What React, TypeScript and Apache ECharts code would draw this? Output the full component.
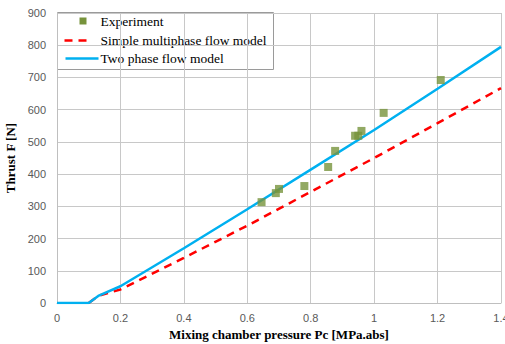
import React, { useEffect, useRef } from "react";
import * as echarts from "echarts";

const expX = [0.645, 0.69, 0.70, 0.78, 0.855, 0.877, 0.94, 0.95, 0.96, 1.03, 1.21];
const expY = [313, 341, 354, 363, 422, 472, 519, 519, 534, 590, 692];

const twoPhaseX = [0, 0.1, 0.13, 0.2, 0.4, 0.6, 0.8, 1.0, 1.2, 1.4];
const twoPhaseY = [0, 0, 22, 52, 170, 291, 414, 537, 665, 795];

const simpleX = [0.1, 0.13, 0.2, 0.4, 0.6, 0.8, 1.0, 1.2, 1.4];
const simpleY = [0, 22, 42, 140, 240, 345, 450, 558, 667];

const names = ["Experiment", "Simple multiphase flow model", "Two phase flow model"];
const xTitle = "Mixing chamber pressure Pc [MPa.abs]";
const yTitle = "Thrust F [N]";

const GREEN = "#77933c";
const RED = "#ff0000";
const BLUE = "#00b0f0";

export default function App() {
  const ref = useRef<HTMLDivElement>(null);
  useEffect(() => {
    if (!ref.current) return;
    const chart = echarts.init(ref.current, undefined, { renderer: "svg" });
    const serif = "'Liberation Serif', 'Times New Roman', serif";
    const tick = { color: "#595959", fontSize: 11, fontFamily: "'Liberation Sans', Arial, sans-serif" };
    const grid = { left: 57, right: 4, top: 13, bottom: 41, outerBoundsMode: "none", containLabel: false };
    const lx = 57, ly = 12;
    chart.setOption({
      animation: false,
      backgroundColor: "#ffffff",
      grid,
      xAxis: {
        type: "value",
        min: 0,
        max: 1.4,
        interval: 0.2,
        name: xTitle,
        nameLocation: "middle",
        nameGap: 24,
        nameTextStyle: { fontFamily: serif, fontWeight: "bold", fontSize: 13, color: "#000" },
        axisLine: { show: true, lineStyle: { color: "#bfbfbf", width: 1 } },
        axisTick: { show: false },
        axisLabel: { ...tick, margin: 9 },
        splitLine: { show: true, lineStyle: { color: "#c8c8c8", width: 1 } },
      },
      yAxis: {
        type: "value",
        min: 0,
        max: 900,
        interval: 100,
        name: yTitle,
        nameLocation: "middle",
        nameGap: 36,
        nameTextStyle: { fontFamily: serif, fontWeight: "bold", fontSize: 13, color: "#000" },
        axisLine: { show: true, lineStyle: { color: "#bfbfbf", width: 1 } },
        axisTick: { show: false },
        axisLabel: { ...tick, margin: 11 },
        splitLine: { show: true, lineStyle: { color: "#c8c8c8", width: 1 } },
      },
      series: [
        {
          name: names[2],
          type: "line",
          data: twoPhaseX.map((x, i) => [x, twoPhaseY[i]]),
          symbol: "none",
          lineStyle: { color: BLUE, width: 2.5 },
          z: 3,
        },
        {
          name: names[1],
          type: "line",
          data: simpleX.map((x, i) => [x, simpleY[i]]),
          symbol: "none",
          lineStyle: { color: RED, width: 2.5, type: [8, 6] },
          z: 2,
        },
        {
          name: names[0],
          type: "scatter",
          data: expX.map((x, i) => [x, expY[i]]),
          symbol: "rect",
          symbolSize: 8,
          itemStyle: { color: GREEN },
          z: 4,
        },
      ],
      graphic: [
        {
          type: "group",
          left: lx,
          top: ly,
          z: 100,
          children: [
            { type: "rect", shape: { x: 0, y: 0, width: 216, height: 57 }, style: { fill: "#fff", stroke: "#9a9a9a", lineWidth: 1 } },
            { type: "rect", shape: { x: 22, y: 5, width: 7, height: 7 }, style: { fill: GREEN } },
            { type: "text", x: 43, y: 9, style: { text: names[0], font: `13.5px ${serif}`, fill: "#000", textVerticalAlign: "middle" } },
            { type: "line", shape: { x1: 7, y1: 28, x2: 33, y2: 28 }, style: { stroke: RED, lineWidth: 2.5, lineDash: [8, 6] } },
            { type: "text", x: 43, y: 28, style: { text: names[1], font: `13.5px ${serif}`, fill: "#000", textVerticalAlign: "middle" } },
            { type: "line", shape: { x1: 8, y1: 46, x2: 41, y2: 46 }, style: { stroke: BLUE, lineWidth: 2.5 } },
            { type: "text", x: 43, y: 46, style: { text: names[2], font: `13.5px ${serif}`, fill: "#000", textVerticalAlign: "middle" } },
          ],
        },
      ],
    });
    return () => chart.dispose();
  }, []);
  return <div ref={ref} style={{ width: 505, height: 344, position: "absolute", left: 0, top: 0 }} />;
}
